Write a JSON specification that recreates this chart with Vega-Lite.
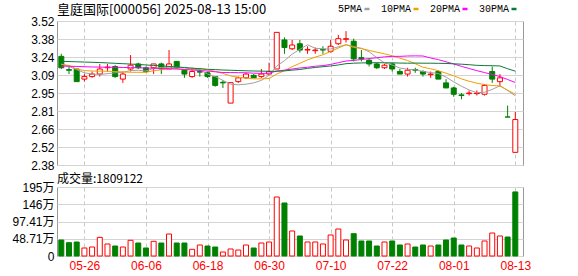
{
  "$schema": "https://vega.github.io/schema/vega-lite/v6.json",
  "background": "white",
  "padding": {"left": 6, "top": 3, "right": 2, "bottom": 2},
  "config": {
    "view": {"stroke": "#999999", "strokeWidth": 1},
    "font": "Liberation Sans, Noto Sans CJK SC",
    "axis": {"title": null, "ticks": false, "domain": false, "labelFont": "Liberation Sans, Noto Sans CJK SC", "labelFontSize": 12, "labelColor": "#000000", "gridColor": "#d4d4d4", "gridWidth": 1, "labelPadding": 3},
    "axisY": {"minExtent": 50, "maxExtent": 50},
    "concat": {"spacing": 0}
  },
  "datasets": {
    "k": [
      {"i":0,"d":"05-21","o":3.24,"h":3.26,"l":3.14,"c":3.15,"v":452000,"vd":-1,"5PMA":3.18,"10PMA":3.176,"20PMA":3.163,"30PMA":3.2},
      {"i":1,"d":"05-22","o":3.135,"h":3.16,"l":3.10,"c":3.13,"v":376000,"vd":-1,"5PMA":3.16,"10PMA":3.168,"20PMA":3.162,"30PMA":3.199},
      {"i":2,"d":"05-23","o":3.14,"h":3.14,"l":3.04,"c":3.04,"v":395000,"vd":-1,"5PMA":3.135,"10PMA":3.14,"20PMA":3.16,"30PMA":3.197},
      {"i":3,"d":"05-26","o":3.06,"h":3.10,"l":3.04,"c":3.08,"v":226000,"vd":1,"5PMA":3.11,"10PMA":3.128,"20PMA":3.158,"30PMA":3.195},
      {"i":4,"d":"05-27","o":3.08,"h":3.12,"l":3.07,"c":3.10,"v":254000,"vd":1,"5PMA":3.10,"10PMA":3.124,"20PMA":3.156,"30PMA":3.193},
      {"i":5,"d":"05-28","o":3.10,"h":3.18,"l":3.08,"c":3.14,"v":527000,"vd":1,"5PMA":3.098,"10PMA":3.123,"20PMA":3.155,"30PMA":3.191},
      {"i":6,"d":"05-29","o":3.15,"h":3.18,"l":3.12,"c":3.155,"v":339000,"vd":1,"5PMA":3.103,"10PMA":3.122,"20PMA":3.154,"30PMA":3.188},
      {"i":7,"d":"05-30","o":3.16,"h":3.17,"l":3.07,"c":3.08,"v":282000,"vd":-1,"5PMA":3.11,"10PMA":3.12,"20PMA":3.153,"30PMA":3.185},
      {"i":8,"d":"06-03","o":3.06,"h":3.12,"l":3.03,"c":3.10,"v":254000,"vd":1,"5PMA":3.114,"10PMA":3.117,"20PMA":3.152,"30PMA":3.182},
      {"i":9,"d":"06-04","o":3.14,"h":3.25,"l":3.12,"c":3.17,"v":443000,"vd":1,"5PMA":3.128,"10PMA":3.114,"20PMA":3.151,"30PMA":3.179},
      {"i":10,"d":"06-05","o":3.18,"h":3.19,"l":3.14,"c":3.15,"v":367000,"vd":-1,"5PMA":3.13,"10PMA":3.114,"20PMA":3.15,"30PMA":3.176},
      {"i":11,"d":"06-06","o":3.15,"h":3.16,"l":3.11,"c":3.12,"v":226000,"vd":-1,"5PMA":3.124,"10PMA":3.113,"20PMA":3.148,"30PMA":3.172},
      {"i":12,"d":"06-09","o":3.15,"h":3.18,"l":3.10,"c":3.18,"v":415000,"vd":1,"5PMA":3.144,"10PMA":3.127,"20PMA":3.146,"30PMA":3.168},
      {"i":13,"d":"06-10","o":3.18,"h":3.19,"l":3.10,"c":3.14,"v":367000,"vd":-1,"5PMA":3.152,"10PMA":3.133,"20PMA":3.144,"30PMA":3.164},
      {"i":14,"d":"06-11","o":3.14,"h":3.29,"l":3.14,"c":3.18,"v":621000,"vd":1,"5PMA":3.154,"10PMA":3.141,"20PMA":3.142,"30PMA":3.16},
      {"i":15,"d":"06-12","o":3.20,"h":3.20,"l":3.14,"c":3.15,"v":367000,"vd":-1,"5PMA":3.154,"10PMA":3.142,"20PMA":3.14,"30PMA":3.156},
      {"i":16,"d":"06-13","o":3.13,"h":3.14,"l":3.07,"c":3.10,"v":367000,"vd":-1,"5PMA":3.15,"10PMA":3.137,"20PMA":3.136,"30PMA":3.152},
      {"i":17,"d":"06-16","o":3.08,"h":3.15,"l":3.07,"c":3.12,"v":189000,"vd":1,"5PMA":3.138,"10PMA":3.141,"20PMA":3.132,"30PMA":3.147},
      {"i":18,"d":"06-17","o":3.12,"h":3.14,"l":3.08,"c":3.115,"v":311000,"vd":1,"5PMA":3.134,"10PMA":3.143,"20PMA":3.128,"30PMA":3.142},
      {"i":19,"d":"06-18","o":3.11,"h":3.12,"l":3.07,"c":3.08,"v":282000,"vd":-1,"5PMA":3.10,"10PMA":3.134,"20PMA":3.124,"30PMA":3.138},
      {"i":20,"d":"06-19","o":3.08,"h":3.08,"l":3.00,"c":3.01,"v":254000,"vd":-1,"5PMA":3.08,"10PMA":3.121,"20PMA":3.118,"30PMA":3.135},
      {"i":21,"d":"06-20","o":3.035,"h":3.05,"l":2.99,"c":3.03,"v":113000,"vd":1,"5PMA":3.05,"10PMA":3.105,"20PMA":3.112,"30PMA":3.132},
      {"i":22,"d":"06-23","o":2.87,"h":3.03,"l":2.87,"c":3.032,"v":198000,"vd":1,"5PMA":3.02,"10PMA":3.085,"20PMA":3.112,"30PMA":3.13},
      {"i":23,"d":"06-24","o":3.04,"h":3.08,"l":3.03,"c":3.07,"v":169000,"vd":1,"5PMA":3.015,"10PMA":3.075,"20PMA":3.111,"30PMA":3.128},
      {"i":24,"d":"06-25","o":3.07,"h":3.11,"l":3.06,"c":3.10,"v":311000,"vd":1,"5PMA":3.02,"10PMA":3.068,"20PMA":3.11,"30PMA":3.126},
      {"i":25,"d":"06-26","o":3.09,"h":3.10,"l":3.07,"c":3.07,"v":226000,"vd":-1,"5PMA":3.03,"10PMA":3.062,"20PMA":3.107,"30PMA":3.124},
      {"i":26,"d":"06-27","o":3.08,"h":3.14,"l":3.07,"c":3.10,"v":367000,"vd":1,"5PMA":3.05,"10PMA":3.062,"20PMA":3.105,"30PMA":3.123},
      {"i":27,"d":"06-30","o":3.10,"h":3.19,"l":3.09,"c":3.12,"v":395000,"vd":1,"5PMA":3.09,"10PMA":3.065,"20PMA":3.107,"30PMA":3.122},
      {"i":28,"d":"07-01","o":3.14,"h":3.43,"l":3.14,"c":3.43,"v":1666000,"vd":1,"5PMA":3.164,"10PMA":3.1,"20PMA":3.124,"30PMA":3.122},
      {"i":29,"d":"07-02","o":3.37,"h":3.39,"l":3.26,"c":3.31,"v":1497000,"vd":-1,"5PMA":3.206,"10PMA":3.127,"20PMA":3.131,"30PMA":3.125},
      {"i":30,"d":"07-03","o":3.30,"h":3.37,"l":3.29,"c":3.33,"v":706000,"vd":1,"5PMA":3.258,"10PMA":3.158,"20PMA":3.14,"30PMA":3.131},
      {"i":31,"d":"07-04","o":3.34,"h":3.37,"l":3.27,"c":3.29,"v":565000,"vd":-1,"5PMA":3.296,"10PMA":3.185,"20PMA":3.148,"30PMA":3.136},
      {"i":32,"d":"07-07","o":3.29,"h":3.32,"l":3.26,"c":3.295,"v":395000,"vd":1,"5PMA":3.332,"10PMA":3.212,"20PMA":3.154,"30PMA":3.145},
      {"i":33,"d":"07-08","o":3.285,"h":3.31,"l":3.26,"c":3.29,"v":395000,"vd":1,"5PMA":3.304,"10PMA":3.234,"20PMA":3.162,"30PMA":3.152},
      {"i":34,"d":"07-09","o":3.295,"h":3.32,"l":3.26,"c":3.29,"v":339000,"vd":1,"5PMA":3.30,"10PMA":3.253,"20PMA":3.167,"30PMA":3.158},
      {"i":35,"d":"07-10","o":3.28,"h":3.37,"l":3.27,"c":3.32,"v":593000,"vd":1,"5PMA":3.298,"10PMA":3.278,"20PMA":3.176,"30PMA":3.164},
      {"i":36,"d":"07-11","o":3.34,"h":3.41,"l":3.33,"c":3.38,"v":762000,"vd":1,"5PMA":3.316,"10PMA":3.306,"20PMA":3.19,"30PMA":3.172},
      {"i":37,"d":"07-14","o":3.375,"h":3.44,"l":3.35,"c":3.38,"v":452000,"vd":1,"5PMA":3.332,"10PMA":3.332,"20PMA":3.203,"30PMA":3.182},
      {"i":38,"d":"07-15","o":3.36,"h":3.38,"l":3.20,"c":3.22,"v":630000,"vd":-1,"5PMA":3.318,"10PMA":3.311,"20PMA":3.208,"30PMA":3.186},
      {"i":39,"d":"07-16","o":3.23,"h":3.29,"l":3.20,"c":3.22,"v":424000,"vd":-1,"5PMA":3.304,"10PMA":3.302,"20PMA":3.215,"30PMA":3.188},
      {"i":40,"d":"07-17","o":3.21,"h":3.22,"l":3.16,"c":3.18,"v":424000,"vd":-1,"5PMA":3.276,"10PMA":3.287,"20PMA":3.223,"30PMA":3.189},
      {"i":41,"d":"07-18","o":3.18,"h":3.19,"l":3.14,"c":3.15,"v":282000,"vd":-1,"5PMA":3.23,"10PMA":3.273,"20PMA":3.229,"30PMA":3.19},
      {"i":42,"d":"07-21","o":3.15,"h":3.18,"l":3.14,"c":3.17,"v":395000,"vd":1,"5PMA":3.188,"10PMA":3.26,"20PMA":3.236,"30PMA":3.189},
      {"i":43,"d":"07-22","o":3.18,"h":3.19,"l":3.12,"c":3.14,"v":424000,"vd":-1,"5PMA":3.172,"10PMA":3.245,"20PMA":3.24,"30PMA":3.189},
      {"i":44,"d":"07-23","o":3.12,"h":3.14,"l":3.10,"c":3.10,"v":311000,"vd":-1,"5PMA":3.148,"10PMA":3.226,"20PMA":3.24,"30PMA":3.187},
      {"i":45,"d":"07-24","o":3.10,"h":3.15,"l":3.08,"c":3.13,"v":339000,"vd":1,"5PMA":3.138,"10PMA":3.207,"20PMA":3.243,"30PMA":3.186},
      {"i":46,"d":"07-25","o":3.135,"h":3.15,"l":3.11,"c":3.13,"v":254000,"vd":-1,"5PMA":3.134,"10PMA":3.182,"20PMA":3.244,"30PMA":3.187},
      {"i":47,"d":"07-28","o":3.12,"h":3.13,"l":3.08,"c":3.10,"v":311000,"vd":-1,"5PMA":3.12,"10PMA":3.154,"20PMA":3.243,"30PMA":3.186},
      {"i":48,"d":"07-29","o":3.095,"h":3.12,"l":3.07,"c":3.10,"v":282000,"vd":1,"5PMA":3.112,"10PMA":3.142,"20PMA":3.227,"30PMA":3.186},
      {"i":49,"d":"07-30","o":3.12,"h":3.13,"l":3.06,"c":3.06,"v":311000,"vd":-1,"5PMA":3.104,"10PMA":3.126,"20PMA":3.214,"30PMA":3.185},
      {"i":50,"d":"07-31","o":3.03,"h":3.06,"l":2.99,"c":2.99,"v":452000,"vd":-1,"5PMA":3.076,"10PMA":3.107,"20PMA":3.197,"30PMA":3.184},
      {"i":51,"d":"08-01","o":2.99,"h":3.00,"l":2.92,"c":2.94,"v":508000,"vd":-1,"5PMA":3.038,"10PMA":3.086,"20PMA":3.18,"30PMA":3.181},
      {"i":52,"d":"08-04","o":2.935,"h":2.95,"l":2.90,"c":2.93,"v":311000,"vd":-1,"5PMA":3.004,"10PMA":3.062,"20PMA":3.161,"30PMA":3.178},
      {"i":53,"d":"08-05","o":2.945,"h":2.97,"l":2.93,"c":2.95,"v":282000,"vd":1,"5PMA":2.974,"10PMA":3.043,"20PMA":3.144,"30PMA":3.174},
      {"i":54,"d":"08-06","o":2.945,"h":2.97,"l":2.93,"c":2.95,"v":226000,"vd":1,"5PMA":2.952,"10PMA":3.028,"20PMA":3.127,"30PMA":3.169},
      {"i":55,"d":"08-07","o":2.94,"h":3.02,"l":2.93,"c":3.01,"v":424000,"vd":1,"5PMA":2.956,"10PMA":3.016,"20PMA":3.112,"30PMA":3.167},
      {"i":56,"d":"08-08","o":3.12,"h":3.16,"l":3.03,"c":3.06,"v":649000,"vd":1,"5PMA":2.978,"10PMA":3.009,"20PMA":3.096,"30PMA":3.166},
      {"i":57,"d":"08-11","o":3.04,"h":3.10,"l":3.00,"c":3.07,"v":565000,"vd":1,"5PMA":3.008,"10PMA":3.006,"20PMA":3.08,"30PMA":3.164},
      {"i":58,"d":"08-12","o":2.76,"h":2.85,"l":2.76,"c":2.76,"v":536000,"vd":-1,"5PMA":2.97,"10PMA":2.972,"20PMA":3.057,"30PMA":3.142},
      {"i":59,"d":"08-13","o":2.48,"h":2.80,"l":2.48,"c":2.74,"v":1809122,"vd":-1,"5PMA":2.928,"10PMA":2.94,"20PMA":3.033,"30PMA":3.123}
    ]
  },
  "vconcat": [
    {
      "width": 466,
      "height": 144,
      "data": {"name": "k"},
      "title": {"text": "皇庭国际[000056] 2025-08-13 15:00", "anchor": "start", "frame": "group", "font": "Noto Sans CJK SC", "fontSize": 13, "fontWeight": "normal", "color": "#000000", "offset": -2},
      "encoding": {
        "x": {"field": "i", "type": "quantitative", "scale": {"domain": [-0.56, 60.0], "nice": false, "zero": false, "padding": 0},
              "axis": {"values": [3, 11, 19, 27, 35, 43, 51, 59], "labels": false, "grid": true, "gridDash": [4, 3], "gridColor": "#c8c8c8"}}
      },
      "layer": [
        {
          "mark": {"type": "rule", "strokeWidth": 1},
          "encoding": {
            "y": {"field": "l", "type": "quantitative", "scale": {"domain": [2.38, 3.52], "nice": false, "zero": false, "padding": 0},
                  "axis": {"values": [2.38, 2.5225, 2.665, 2.8075, 2.95, 3.0925, 3.235, 3.3775, 3.52], "labelExpr": "['2.38','2.52','2.66','2.81','2.95','3.09','3.24','3.38','3.52'][round((datum.value-2.38)/0.1425)]", "grid": true}},
            "y2": {"field": "h"},
            "color": {"condition": {"test": "datum.c > datum.o || (datum.c == datum.o && datum.vd > 0)", "value": "#ff0000"}, "value": "#008000"}
          }
        },
        {
          "mark": {"type": "bar", "width": 5, "strokeWidth": 1},
          "encoding": {
            "y": {"field": "o", "type": "quantitative", "scale": {"domain": [2.38, 3.52], "nice": false, "zero": false, "padding": 0},
                  "axis": {"values": [2.38, 2.5225, 2.665, 2.8075, 2.95, 3.0925, 3.235, 3.3775, 3.52], "labelExpr": "['2.38','2.52','2.66','2.81','2.95','3.09','3.24','3.38','3.52'][round((datum.value-2.38)/0.1425)]", "grid": true}},
            "y2": {"field": "c"},
            "fill": {"condition": {"test": "datum.c > datum.o || (datum.c == datum.o && datum.vd > 0)", "value": "#ffffff"}, "value": "#008000"},
            "stroke": {"condition": {"test": "datum.c > datum.o || (datum.c == datum.o && datum.vd > 0)", "value": "#ff0000"}, "value": "#008000"}
          }
        },
        {
          "transform": [{"fold": ["5PMA", "10PMA", "20PMA", "30PMA"], "as": ["k", "m"]}],
          "mark": {"type": "line", "strokeWidth": 1},
          "encoding": {
            "y": {"field": "m", "type": "quantitative", "scale": {"domain": [2.38, 3.52], "nice": false, "zero": false, "padding": 0},
                  "axis": {"values": [2.38, 2.5225, 2.665, 2.8075, 2.95, 3.0925, 3.235, 3.3775, 3.52], "labelExpr": "['2.38','2.52','2.66','2.81','2.95','3.09','3.24','3.38','3.52'][round((datum.value-2.38)/0.1425)]", "grid": true}},
            "color": {"field": "k", "type": "nominal",
                      "scale": {"domain": ["5PMA", "10PMA", "20PMA", "30PMA"], "range": ["#a0a0a0", "#f0a000", "#ff00ff", "#0b7a38"]},
                      "legend": {"orient": "none", "legendX": 305, "legendY": -17, "direction": "horizontal", "title": null, "padding": 0,
                                 "labelFont": "Liberation Mono", "labelFontSize": 10, "labelColor": "#000000", "labelAlign": "right", "labelOffset": -10,
                                 "symbolType": "stroke", "symbolSize": 25, "symbolStrokeWidth": 2.5, "columnPadding": 5}}
          }
        }
      ]
    },
    {
      "width": 466,
      "height": 69,
      "data": {"name": "k"},
      "title": {"text": "成交量:1809122", "anchor": "start", "frame": "group", "font": "Noto Sans CJK SC", "fontSize": 12, "fontWeight": "normal", "color": "#000000", "offset": -5},
      "mark": {"type": "bar", "width": 5, "strokeWidth": 1},
      "encoding": {
        "x": {"field": "i", "type": "quantitative", "scale": {"domain": [-0.56, 60.0], "nice": false, "zero": false, "padding": 0},
              "axis": {"values": [3, 11, 19, 27, 35, 43, 51, 59], "labelExpr": "['05-26','06-06','06-18','06-30','07-10','07-22','08-01','08-13'][round((datum.value-3)/8)]", "labelColor": "#ff0000", "labelPadding": 4, "grid": true, "gridDash": [4, 3], "gridColor": "#c8c8c8", "labelFlush": false}},
        "y": {"field": "v", "type": "quantitative", "scale": {"domain": [0, 1948400], "nice": false, "padding": 0},
              "axis": {"values": [0, 487100, 974200, 1461300, 1948400], "labelExpr": "['0','48.71万','97.41万','146万','195万'][round(datum.value/487100)]", "grid": true}},
        "fill": {"condition": {"test": "datum.vd > 0", "value": "#ffffff"}, "value": "#008000"},
        "stroke": {"condition": {"test": "datum.vd > 0", "value": "#ff0000"}, "value": "#008000"}
      }
    }
  ]
}
